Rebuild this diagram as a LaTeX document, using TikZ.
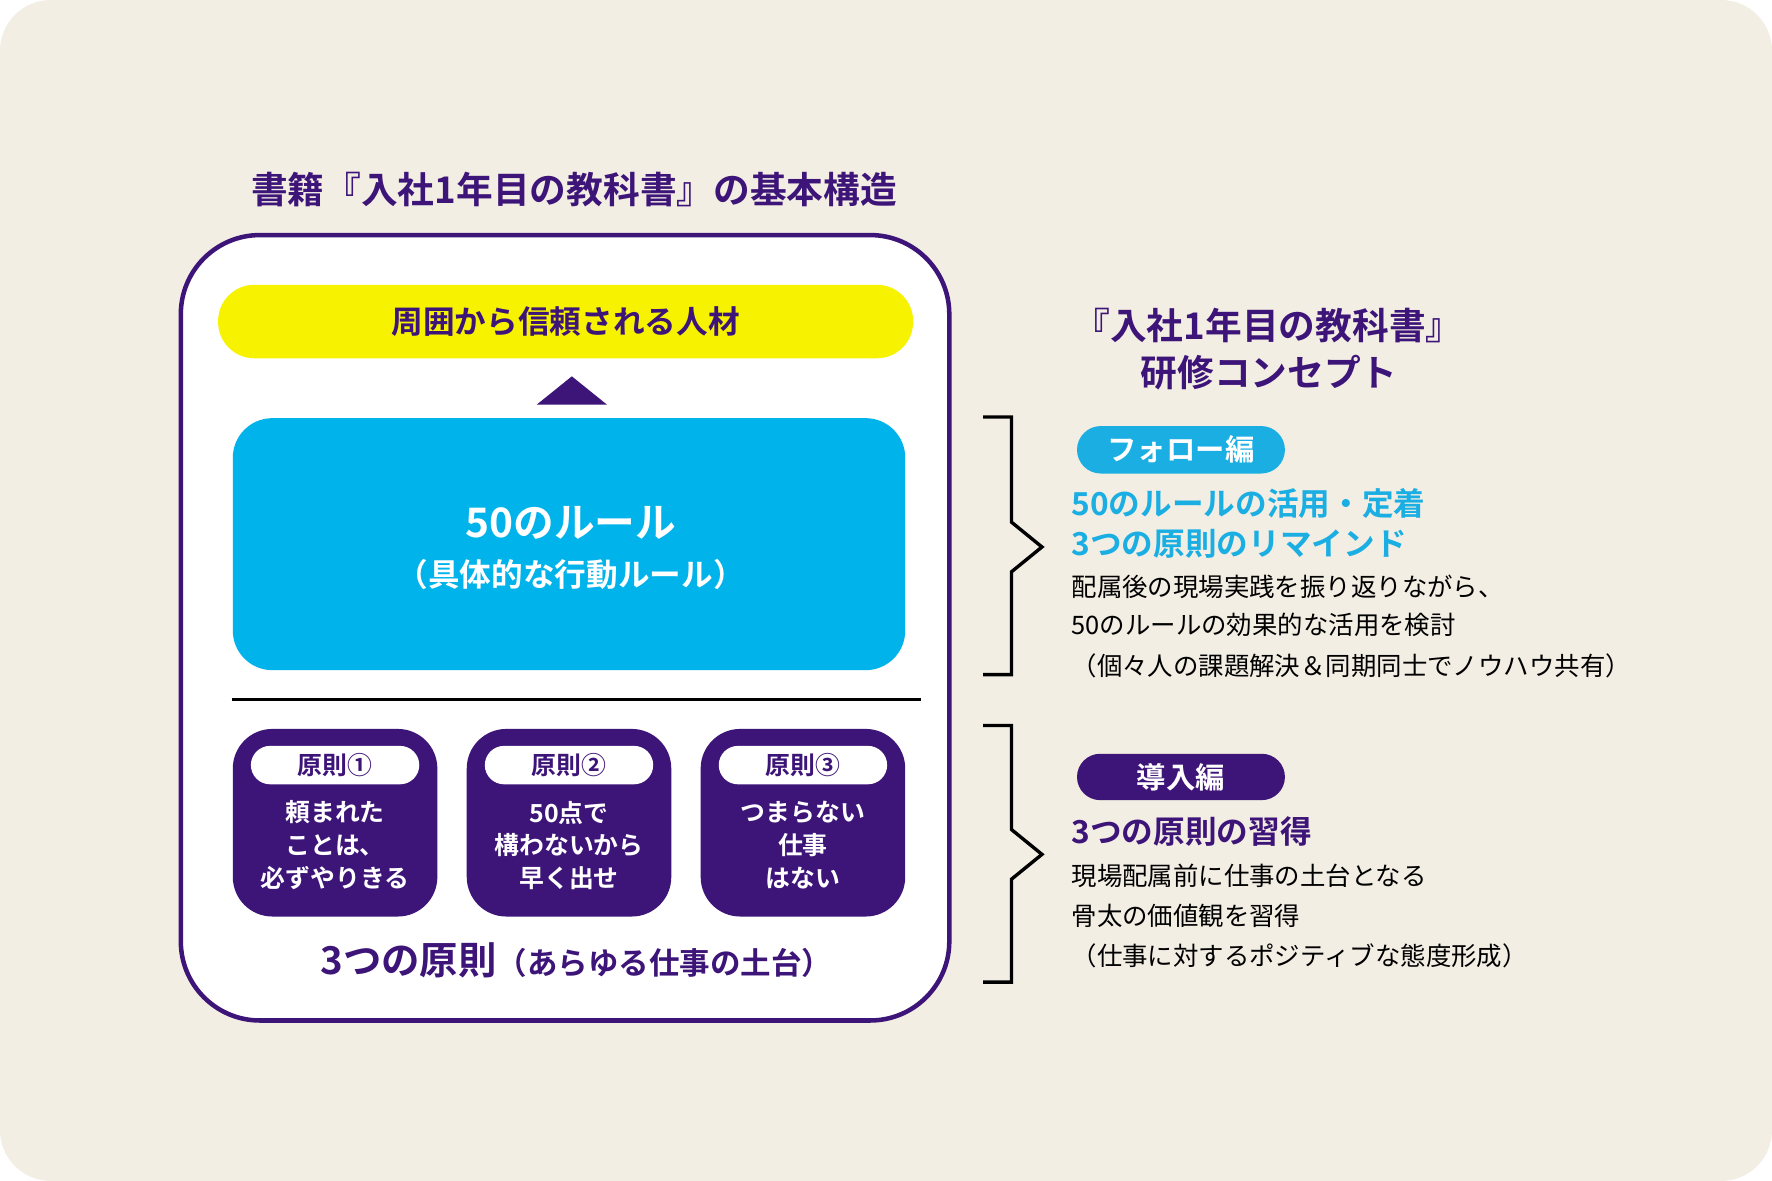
\documentclass[tikz,border=0pt]{standalone}
\usepackage{fontspec}
\setmainfont{Noto Sans CJK JP}[BoldFont={* Bold}]
\definecolor{bg}{HTML}{F3EEE4}
\definecolor{pur}{HTML}{3D1478}
\definecolor{blu}{HTML}{00B3EA}
\definecolor{lblu}{HTML}{1BAEE3}
\definecolor{yel}{HTML}{F6F200}
\newcommand{\fs}[1]{\fontsize{#1}{#1}\selectfont}
\tikzset{
  headtxt/.style={font=\bfseries\fs{32.5}, text=pur, inner sep=0},
  pill/.style={rounded corners=#1, inner sep=0},
  pbox/.style={fill=pur, rounded corners=35, minimum width=181, minimum height=166, inner sep=0},
  wpill/.style={fill=white, rounded corners=17, minimum width=149, minimum height=34, inner sep=0, text=pur, font=\bfseries\fs{22}},
  ptxt/.style={text=white, font=\bfseries\fs{22}, align=center, inner sep=0},
  bluehead/.style={anchor=west, inner sep=0, text=lblu, font=\bfseries\fs{28}},
  body/.style={anchor=west, inner sep=0, text=black, font=\fs{22.5}},
  brace/.style={line width=3, line join=miter, draw=black},
}
\begin{document}
\begin{tikzpicture}[x=1pt,y=-1pt]
\fill[white] (0,0) rectangle (1568,1045);
\fill[bg, rounded corners=45] (0,0) rectangle (1568,1045);
\useasboundingbox (0,0) rectangle (1568,1045);

% title
\node[headtxt] (title) at (508,168) {書籍『入社1年目の教科書』の基本構造};

% main frame
\node[draw=pur, line width=4, fill=white, rounded corners=70, minimum width=680, minimum height=695, inner sep=0] (frame) at (500,555.5) {};

% yellow pill
\node[fill=yel, pill=32, minimum width=615, minimum height=65, text=pur, font=\bfseries\fs{28}] (goal) at (500.5,284.5) {周囲から信頼される人材};

% triangle
\fill[pur] (475,358) -- (506,333) -- (537,358) -- cycle;

% blue box
\node[fill=blu, pill=35, minimum width=595, minimum height=223] (rules) at (503.5,481.5) {};
\node[text=white, font=\bfseries\fs{36}, inner sep=0] (rulesA) at (505,463) {50のルール};
\node[text=white, font=\bfseries\fs{28}, inner sep=0] (rulesB) at (505,508) {（具体的な行動ルール）};

% separator
\draw[line width=2] (205,619) -- (815,619);

% principle boxes
\node[pbox] (p1) at (296.5,728) {};
\node[pbox] (p2) at (503.5,728) {};
\node[pbox] (p3) at (710.5,728) {};
\node[wpill] (p1l) at (296.5,677) {原則①};
\node[wpill] (p2l) at (503.5,677) {原則②};
\node[wpill] (p3l) at (710.5,677) {原則③};
\node[ptxt] (p1t) at (296.5,748) {頼まれた\\[7pt]ことは、\\[7pt]必ずやりきる};
\node[ptxt] (p2t) at (503.5,748) {50点で\\[7pt]構わないから\\[7pt]早く出せ};
\node[ptxt] (p3t) at (710.5,748) {つまらない\\[7pt]仕事\\[7pt]はない};

\node[text=pur, font=\bfseries, inner sep=0] (base) at (510,850) {{\fs{34}3つの原則}{\fs{27}（あらゆる仕事の土台）}};

% right side
\node[headtxt] (rt1) at (1122,288) {『入社1年目の教科書』};
\node[headtxt] (rt2) at (1123,330) {研修コンセプト};

\draw[brace] (870,369) -- (895,369) -- (895,462) -- (922,484) -- (895,506) -- (895,597) -- (870,597);
\draw[brace] (870,642) -- (895,642) -- (895,734) -- (922,756) -- (895,778) -- (895,869) -- (870,869);

\node[fill=lblu, pill=21, minimum width=184, minimum height=42, text=white, font=\bfseries\fs{26}] (follow) at (1045,398) {フォロー編};
\node[bluehead] (f1) at (948,446) {50のルールの活用・定着};
\node[bluehead] (f2) at (948,481) {3つの原則のリマインド};
\node[body] (f3) at (948,519) {配属後の現場実践を振り返りながら、};
\node[body] (f4) at (948,553) {50のルールの効果的な活用を検討};
\node[body] (f5) at (948,589) {（個々人の課題解決＆同期同士でノウハウ共有）};

\node[fill=pur, pill=20.5, minimum width=184, minimum height=41, text=white, font=\bfseries\fs{26}] (intro) at (1045,687.5) {導入編};
\node[bluehead, text=pur] (i1) at (948,736) {3つの原則の習得};
\node[body] (i2) at (948,775) {現場配属前に仕事の土台となる};
\node[body] (i3) at (948,810) {骨太の価値観を習得};
\node[body] (i4) at (948,846) {（仕事に対するポジティブな態度形成）};
\end{tikzpicture}
\end{document}
